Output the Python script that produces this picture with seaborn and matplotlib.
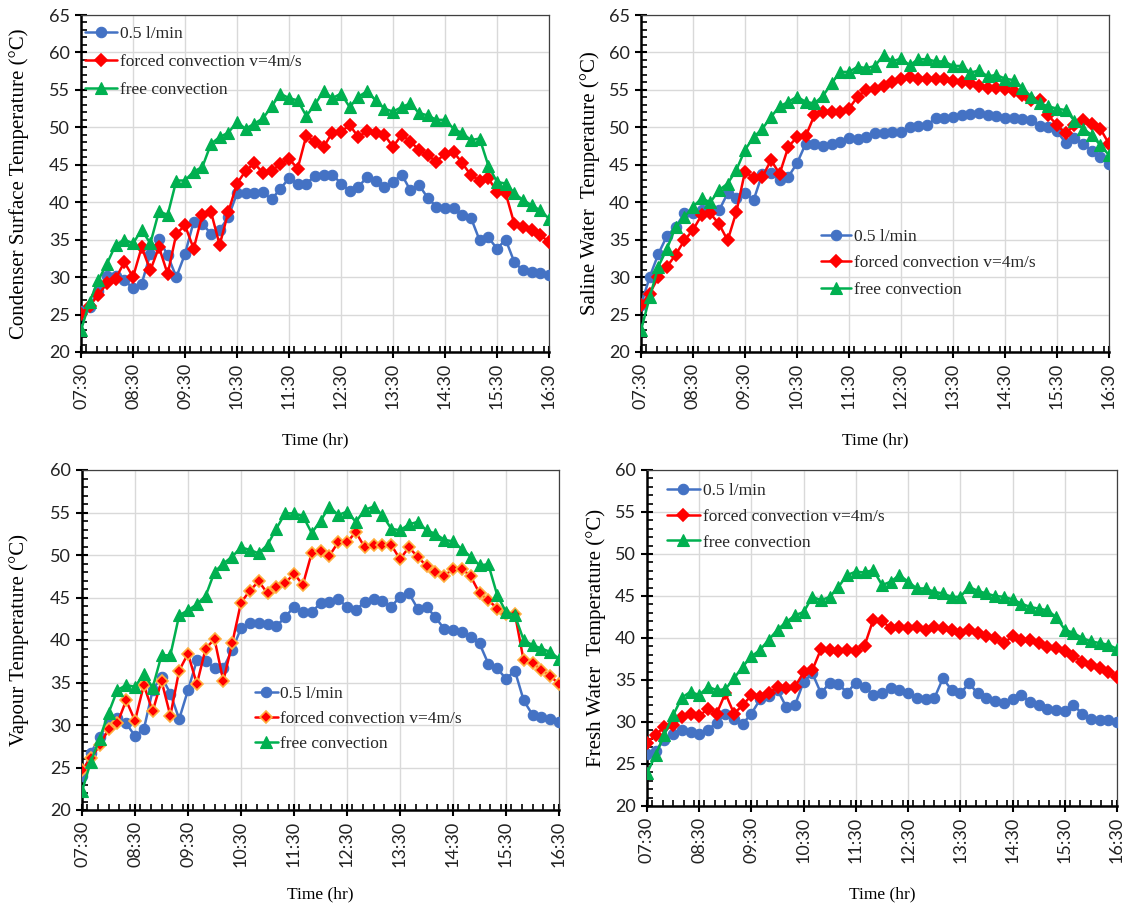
import matplotlib
matplotlib.use("Agg")
import matplotlib.pyplot as plt
import seaborn as sns
from matplotlib.ticker import MultipleLocator, FixedLocator, FixedFormatter

# ---------------- data (10-minute readings, 07:30 .. 16:30) ----------------
time_h = [7.5 + i / 6 for i in range(55)]
tick_hours = [7.5, 8.5, 9.5, 10.5, 11.5, 12.5, 13.5, 14.5, 15.5, 16.5]
tick_labels = ["07:30", "08:30", "09:30", "10:30", "11:30",
               "12:30", "13:30", "14:30", "15:30", "16:30"]
series_names = ["0.5 l/min", "forced convection v=4m/s", "free convection"]

cond_flow = [25.5, 26.0, 28.2, 30.1, 30.2, 29.6, 28.5, 29.1, 33.1, 35.1,
             32.9, 30.0, 33.1, 37.4, 37.1, 35.8, 36.3, 38.0, 41.2, 41.2,
             41.2, 41.3, 40.4, 41.8, 43.2, 42.5, 42.5, 43.5, 43.6, 43.7,
             42.5, 41.5, 42.0, 43.4, 42.9, 42.0, 42.7, 43.7, 41.6, 42.3,
             40.6, 39.4, 39.2, 39.2, 38.3, 37.9, 34.9, 35.3, 33.8, 35.0,
             32.0, 30.9, 30.7, 30.5, 30.3]
cond_forced = [25.1, 26.2, 27.6, 29.2, 29.8, 32.0, 30.0, 34.0, 30.9, 34.0,
               30.4, 35.8, 36.9, 33.8, 38.3, 38.7, 34.3, 38.7, 42.5, 44.2,
               45.2, 43.9, 44.2, 45.1, 45.8, 44.5, 48.9, 48.0, 47.4, 49.3,
               49.4, 50.3, 48.7, 49.5, 49.3, 49.0, 47.4, 49.0, 48.1, 47.0,
               46.3, 45.4, 46.5, 46.7, 45.2, 43.6, 42.9, 43.2, 41.4, 41.2,
               37.1, 36.7, 36.3, 35.6, 34.7]
cond_free = [22.9, 26.7, 29.6, 31.8, 34.3, 35.0, 34.5, 36.3, 34.5, 38.8,
             38.3, 42.9, 42.9, 44.1, 44.7, 47.8, 48.7, 49.3, 50.7, 49.8,
             50.5, 51.2, 52.8, 54.5, 53.9, 53.6, 51.5, 53.1, 54.8, 53.9,
             54.5, 52.7, 54.1, 54.8, 53.6, 52.5, 52.1, 52.7, 53.2, 51.9,
             51.6, 51.0, 51.0, 49.8, 49.2, 48.3, 48.5, 44.9, 42.7, 42.5,
             41.2, 40.3, 39.6, 38.9, 37.8]

saline_flow = [26.3, 30.0, 33.1, 35.5, 36.7, 38.5, 38.5, 38.9, 39.2, 38.9,
               41.2, 40.5, 41.2, 40.3, 43.8, 43.9, 43.0, 43.4, 45.2, 47.8,
               47.8, 47.5, 47.8, 48.1, 48.6, 48.5, 48.7, 49.2, 49.2, 49.4,
               49.4, 50.0, 50.2, 50.3, 51.2, 51.2, 51.4, 51.6, 51.8, 51.9,
               51.6, 51.5, 51.3, 51.2, 51.1, 51.0, 50.2, 50.1, 49.5, 47.9,
               48.6, 47.8, 46.9, 46.1, 45.1]
saline_forced = [26.3, 27.8, 30.0, 31.4, 33.0, 34.9, 36.3, 38.3, 38.5, 37.1,
                 34.9, 38.7, 44.1, 43.2, 43.4, 45.6, 43.8, 47.4, 48.7, 48.8,
                 51.6, 52.1, 52.1, 52.1, 52.5, 54.1, 55.0, 55.1, 55.5, 56.1,
                 56.5, 56.7, 56.5, 56.4, 56.5, 56.4, 56.2, 56.1, 55.9, 55.5,
                 55.3, 55.2, 55.1, 54.9, 54.3, 53.6, 53.6, 51.6, 50.3, 49.2,
                 50.3, 51.0, 50.5, 49.8, 47.8]
saline_free = [22.9, 27.3, 31.4, 33.8, 36.7, 38.0, 39.4, 40.5, 40.0, 41.6,
               42.5, 44.3, 47.0, 48.7, 49.8, 51.4, 52.8, 53.4, 54.1, 53.4,
               53.2, 54.2, 55.9, 57.4, 57.4, 58.1, 57.9, 58.2, 59.7, 58.8,
               59.2, 58.3, 59.1, 59.1, 58.8, 58.8, 58.2, 58.2, 57.3, 57.6,
               56.8, 57.0, 56.5, 56.3, 55.3, 54.1, 53.2, 52.8, 52.5, 52.3,
               50.9, 49.8, 49.0, 47.6, 46.3]

vapour_flow = [24.0, 26.7, 28.6, 30.4, 30.8, 30.2, 28.7, 29.5, 34.1, 35.7,
               33.7, 30.7, 34.1, 37.6, 37.5, 36.7, 36.7, 38.8, 41.4, 42.0,
               42.0, 41.9, 41.6, 42.7, 43.9, 43.3, 43.3, 44.3, 44.5, 44.8,
               43.9, 43.5, 44.5, 44.8, 44.6, 43.9, 45.1, 45.5, 43.7, 43.9,
               42.7, 41.3, 41.2, 40.9, 40.4, 39.6, 37.2, 36.7, 35.4, 36.4,
               32.9, 31.2, 30.9, 30.7, 30.4]
vapour_forced = [24.7, 26.1, 27.6, 29.5, 30.2, 32.9, 30.5, 34.7, 31.6, 35.2,
                 31.1, 36.4, 38.4, 34.8, 39.0, 40.1, 35.2, 39.6, 44.4, 45.8,
                 46.9, 45.5, 46.2, 46.7, 47.8, 46.5, 50.2, 50.5, 49.9, 51.5,
                 51.5, 52.7, 50.9, 51.2, 51.2, 51.2, 49.5, 50.9, 49.8, 48.7,
                 48.0, 47.5, 48.4, 48.4, 47.5, 45.5, 44.7, 43.7, 43.1, 43.1,
                 37.6, 37.3, 36.5, 35.8, 34.8]
vapour_free = [22.2, 25.7, 28.4, 31.4, 34.1, 34.7, 34.5, 36.0, 34.4, 38.2,
               38.2, 42.9, 43.5, 44.2, 45.2, 48.0, 49.0, 49.8, 50.9, 50.6,
               50.2, 51.2, 53.1, 54.9, 54.9, 54.6, 52.6, 54.0, 55.7, 54.7,
               55.1, 53.9, 55.3, 55.7, 54.7, 53.1, 52.9, 53.6, 53.9, 52.9,
               52.5, 51.8, 51.6, 50.7, 49.8, 48.8, 48.9, 45.3, 43.3, 42.9,
               40.0, 39.4, 39.0, 38.6, 37.8]

fresh_flow = [26.2, 26.6, 27.9, 28.6, 29.0, 28.8, 28.6, 29.1, 29.9, 31.0,
              30.3, 29.8, 31.0, 32.7, 33.1, 33.8, 31.8, 32.0, 34.8, 35.8,
              33.4, 34.7, 34.5, 33.5, 34.7, 34.2, 33.2, 33.5, 34.0, 33.8,
              33.4, 32.8, 32.7, 32.8, 35.2, 33.8, 33.4, 34.6, 33.4, 32.9,
              32.5, 32.3, 32.7, 33.2, 32.4, 32.0, 31.6, 31.4, 31.3, 32.0,
              31.0, 30.4, 30.2, 30.2, 30.0]
fresh_forced = [27.5, 28.5, 29.4, 29.6, 30.6, 31.0, 30.7, 31.6, 31.0, 33.4,
                31.0, 32.0, 33.2, 33.0, 33.4, 34.2, 34.0, 34.2, 35.9, 36.2,
                38.7, 38.6, 38.5, 38.6, 38.4, 39.1, 42.2, 42.0, 41.2, 41.3,
                41.2, 41.3, 40.9, 41.3, 41.2, 41.0, 40.6, 40.9, 40.6, 40.2,
                40.0, 39.4, 40.2, 39.8, 39.8, 39.4, 38.9, 38.8, 38.5, 37.8,
                37.2, 36.8, 36.4, 35.9, 35.4]
fresh_free = [23.9, 26.1, 28.5, 30.8, 32.9, 33.6, 33.2, 34.2, 33.8, 33.9,
              35.2, 36.6, 37.8, 38.6, 39.8, 41.0, 41.9, 42.7, 43.1, 44.9,
              44.5, 44.9, 46.1, 47.5, 47.9, 47.8, 48.1, 46.3, 46.7, 47.5,
              46.7, 45.9, 45.9, 45.5, 45.3, 44.9, 44.9, 46.1, 45.6, 45.3,
              45.0, 44.9, 44.6, 44.1, 43.7, 43.5, 43.3, 42.5, 41.0, 40.6,
              40.0, 39.6, 39.4, 39.2, 38.7]

# ---------------- styling ----------------
sns.set_theme(style="white")
plt.rcParams['font.family'] = ['Lato', 'DejaVu Sans']
SERIF = ['Liberation Serif', 'DejaVu Serif']

colors = ["#4472C4", "#FF0000", "#00B050"]
markers = ["o", "D", "^"]
msizes = [7.5, 6.0, 8.0]

W, H = 1125, 908
fig = plt.figure(figsize=(W / 100, H / 100), dpi=100)


def px_axes(l, t, r, b):
    return fig.add_axes([l / W, 1 - b / H, (r - l) / W, (b - t) / H])


panels = [
    dict(box=(81, 15, 549, 352), ylim=(20, 65),
         ylabel="Condenser Surface Temperature (°C)",
         data=(cond_flow, cond_forced, cond_free), leg=(85, 26), lsp=0.68, hl=1.85,
         ylx=29, xly=432, red_edge="#FF0000"),
    dict(box=(641, 15, 1109, 352), ylim=(20, 65),
         ylabel="Saline Water  Temperature (°C)",
         data=(saline_flow, saline_forced, saline_free), leg=(821, 229), lsp=0.58, hl=1.75,
         ylx=600, xly=432, red_edge="#FF0000"),
    dict(box=(82, 470, 559, 810), ylim=(20, 60),
         ylabel="Vapour Temperature (°C)",
         data=(vapour_flow, vapour_forced, vapour_free), leg=(255, 686), lsp=0.5, hl=1.3,
         ylx=29, xly=886, red_edge="#FFB040"),
    dict(box=(647, 470, 1117, 806), ylim=(20, 60),
         ylabel="Fresh Water  Temperature (°C)",
         data=(fresh_flow, fresh_forced, fresh_free), leg=(667, 483), lsp=0.55, hl=1.9,
         ylx=606, xly=886, red_edge="#FF0000"),
]

for p in panels:
    l, t, r, b = p["box"]
    ax = px_axes(l, t, r, b)
    for k, (vals, name) in enumerate(zip(p["data"], series_names)):
        edge = p["red_edge"] if k == 1 else colors[k]
        sns.lineplot(x=time_h, y=vals, ax=ax, color=colors[k], marker=markers[k],
                     markersize=msizes[k], markeredgecolor=edge,
                     markeredgewidth=1.2 if k == 1 else 0.8,
                     linewidth=1.8, label=name, legend=False, zorder=3 + k)
    ax.set_xlim(7.5, 16.5)
    ax.set_ylim(*p["ylim"])
    ax.xaxis.set_major_locator(FixedLocator(tick_hours))
    ax.xaxis.set_major_formatter(FixedFormatter(tick_labels))
    ax.xaxis.set_minor_locator(MultipleLocator(0.2))
    ax.yaxis.set_major_locator(MultipleLocator(5))
    ax.yaxis.set_minor_locator(MultipleLocator(1))
    ax.grid(True, which="major", color="#D9D9D9", linewidth=1.0, zorder=0)
    ax.set_axisbelow(True)
    for s in ["left", "bottom"]:
        ax.spines[s].set_color("black")
        ax.spines[s].set_linewidth(1.8)
    for s in ["top", "right"]:
        ax.spines[s].set_color("#404040")
        ax.spines[s].set_linewidth(0.9)
    ax.tick_params(axis="both", which="major", direction="inout", length=8,
                   width=1.5, color="black", labelsize=13, labelcolor="#222222",
                   left=True, bottom=True)
    ax.tick_params(axis="both", which="minor", direction="in", length=4,
                   width=1.2, color="black", left=True, bottom=True)
    ax.tick_params(axis="x", which="major", labelrotation=90, pad=4)
    ax.tick_params(axis="y", which="major", pad=4)
    ax.set_xlabel("Time (hr)", family=SERIF, fontsize=12.5, color="black")
    ax.set_ylabel(p["ylabel"], family=SERIF, fontsize=15, color="black")
    ax.xaxis.set_label_coords(0.5, (b - p["xly"]) / (b - t))
    ax.yaxis.set_label_coords((p["ylx"] - l) / (r - l), 0.5)
    lx, ly = p["leg"]
    ax.legend(loc="upper left", bbox_to_anchor=(lx / W, 1 - ly / H),
              bbox_transform=fig.transFigure, frameon=False,
              prop={"family": SERIF, "size": 12.5}, handlelength=p["hl"],
              handletextpad=0.15, labelspacing=p["lsp"], borderpad=0,
              borderaxespad=0)

fig.savefig("out.png", dpi=100)
